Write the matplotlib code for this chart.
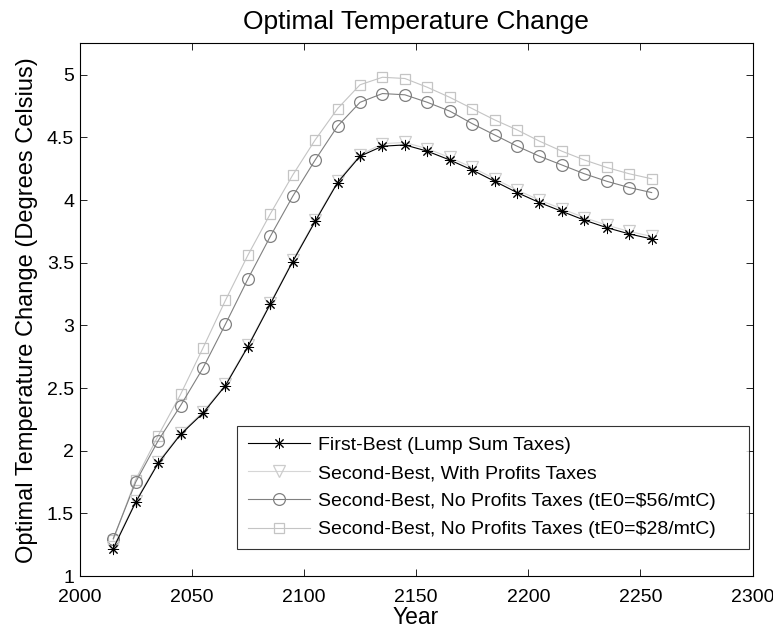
import numpy as np
import matplotlib
matplotlib.use("Agg")
import matplotlib.pyplot as plt

plt.rcParams["font.family"] = ["Liberation Sans", "DejaVu Sans"]

# Data (every 10 years, 2015-2255)
years = np.arange(2015, 2256, 10)

first_best = [1.22, 1.59, 1.90, 2.13, 2.30, 2.52, 2.83, 3.17, 3.51, 3.83,
              4.14, 4.35, 4.43, 4.44, 4.39, 4.32, 4.24, 4.15, 4.06, 3.98,
              3.91, 3.84, 3.78, 3.73, 3.69]

with_profits = [1.23, 1.60, 1.91, 2.14, 2.31, 2.53, 2.84, 3.18, 3.52, 3.84,
                4.15, 4.36, 4.45, 4.46, 4.41, 4.34, 4.26, 4.17, 4.08, 4.00,
                3.93, 3.86, 3.80, 3.75, 3.71]

no_profits_56 = [1.30, 1.75, 2.08, 2.36, 2.66, 3.01, 3.37, 3.71, 4.03, 4.32,
                 4.59, 4.78, 4.85, 4.84, 4.78, 4.71, 4.61, 4.52, 4.43, 4.35,
                 4.28, 4.21, 4.15, 4.10, 4.06]

no_profits_28 = [1.29, 1.77, 2.12, 2.45, 2.82, 3.20, 3.56, 3.89, 4.20, 4.48,
                 4.73, 4.92, 4.98, 4.97, 4.90, 4.82, 4.73, 4.64, 4.56, 4.47,
                 4.39, 4.32, 4.26, 4.21, 4.17]

labels = ["First-Best (Lump Sum Taxes)",
          "Second-Best, With Profits Taxes",
          "Second-Best, No Profits Taxes (tE0=$56/mtC)",
          "Second-Best, No Profits Taxes (tE0=$28/mtC)"]

fig = plt.figure(figsize=(7.73, 6.31), dpi=100)
ax = fig.add_axes([0.103, 0.087, 0.8706, 0.8442])

# draw back to front so the black line sits on top
ax.plot(years, no_profits_28, color="#c4c4c4", lw=0.8, marker="s", ms=7,
        mfc="none", mec="#c4c4c4", mew=0.9, label=labels[3], zorder=2)
ax.plot(years, no_profits_56, color="#808080", lw=0.8, marker="o", ms=8.5,
        mfc="none", mec="#808080", mew=0.9, label=labels[2], zorder=3)
ax.plot(years, with_profits, color="#d6d6d6", lw=0.8, marker="v", ms=8,
        mfc="none", mec="#cccccc", mew=0.9, label=labels[1], zorder=4)
ax.plot(years, first_best, color="black", lw=0.8, marker=(8, 2, 0), ms=8,
        mec="black", mew=0.7, label=labels[0], zorder=5)

ax.set_xlim(2000, 2300)
ax.set_ylim(1, 5.25)
ax.set_xticks(np.arange(2000, 2301, 50))
ax.set_yticks(np.arange(1, 5.01, 0.5))
ax.set_yticklabels(["1", "1.5", "2", "2.5", "3", "3.5", "4", "4.5", "5"])
ax.tick_params(direction="in", top=True, right=True, labelsize=14,
               length=5, width=0.6)
ax.tick_params(axis="x", pad=9)
ax.tick_params(axis="y", pad=4)
for s in ax.spines.values():
    s.set_linewidth(0.8)

ax.set_title("Optimal Temperature Change", fontsize=19, pad=10.5)
ax.set_xlabel("Year", fontsize=16.5, labelpad=0)
ax.set_ylabel("Optimal Temperature Change (Degrees Celsius)", fontsize=17,
              labelpad=6)

# legend box stretched to the width used in the reference (extra room on the right)
handles, lbls = ax.get_legend_handles_labels()
order = [3, 2, 1, 0]
leg = ax.legend([handles[i] for i in order], [lbls[i] for i in order],
                loc="lower left", bbox_to_anchor=(0.234, 0.0507, 0.761, 0.0),
                mode="expand", fontsize=14, frameon=True, fancybox=False,
                edgecolor="black", borderpad=0.55, labelspacing=0.54,
                handlelength=3.2, handletextpad=0.4, borderaxespad=0)
leg.get_frame().set_linewidth(0.8)

fig.savefig("out.png", dpi=100)
